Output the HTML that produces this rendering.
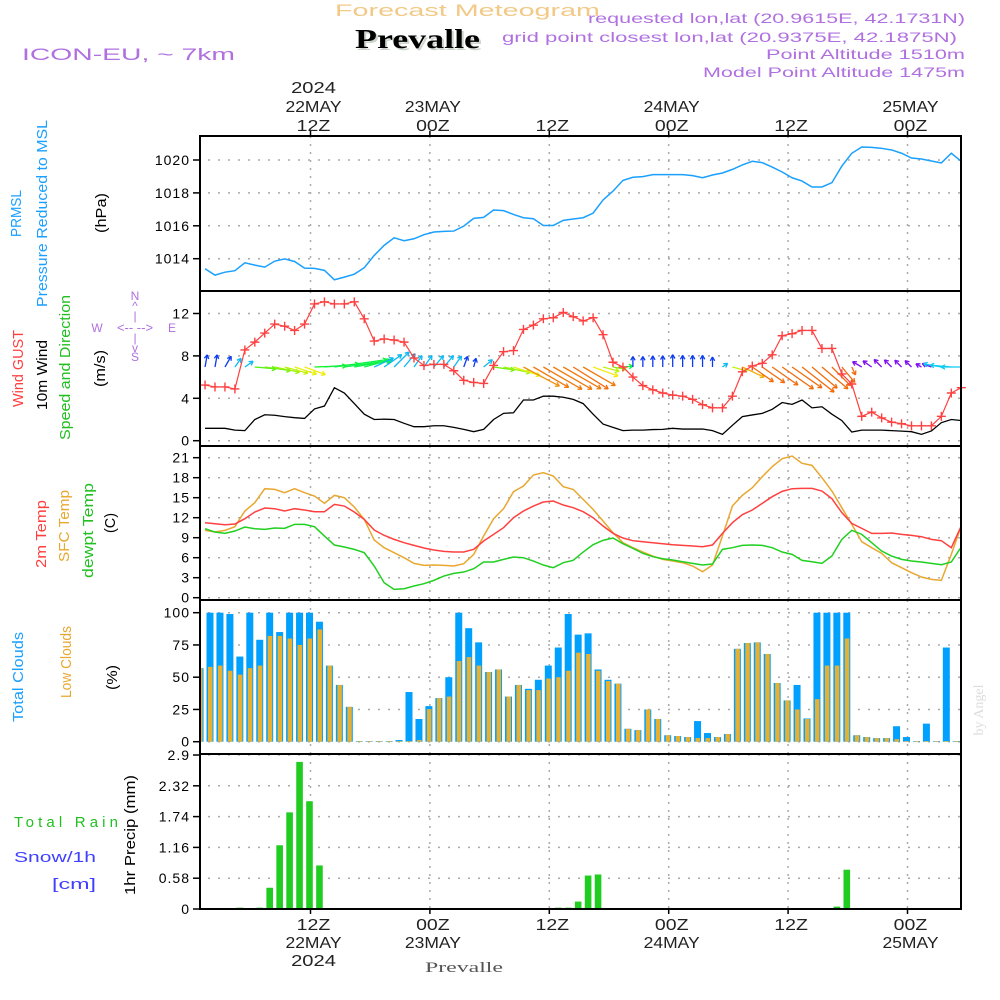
<!DOCTYPE html>
<html><head><meta charset="utf-8"><style>
html,body{margin:0;padding:0;background:#fff;width:1000px;height:1000px;overflow:hidden}
svg{display:block;font-family:"Liberation Sans",sans-serif}
</style></head><body>
<svg id="chart" width="1000" height="1000" viewBox="0 0 1000 1000" xmlns="http://www.w3.org/2000/svg">
<rect x="0" y="0" width="1000" height="1000" fill="#fff"/>
<g lengthAdjust="spacingAndGlyphs">
<text x="335" y="16" font-size="17" fill="#f2c987" textLength="265" lengthAdjust="spacingAndGlyphs">Forecast Meteogram</text>
<text x="357" y="50" font-size="27" font-weight="bold" font-family="Liberation Serif,serif" fill="#ccd4cc" textLength="125" lengthAdjust="spacingAndGlyphs">Prevalle</text>
<text x="355" y="48" font-size="27" font-weight="bold" font-family="Liberation Serif,serif" fill="#000" textLength="125" lengthAdjust="spacingAndGlyphs">Prevalle</text>
<text x="22" y="60" font-size="17" fill="#b070e0" textLength="213" lengthAdjust="spacingAndGlyphs">ICON-EU, ~ 7km</text>
<g font-size="14" fill="#b070e0">
<text x="588" y="23" textLength="377" lengthAdjust="spacingAndGlyphs">requested lon,lat (20.9615E, 42.1731N)</text>
<text x="502" y="42" textLength="455" lengthAdjust="spacingAndGlyphs">grid point closest lon,lat (20.9375E, 42.1875N)</text>
<text x="766" y="59" textLength="199" lengthAdjust="spacingAndGlyphs">Point Altitude 1510m</text>
<text x="703" y="77" textLength="262" lengthAdjust="spacingAndGlyphs">Model Point Altitude 1475m</text>
</g>
</g>
<g font-size="15">
<text transform="translate(21,237) rotate(-90)" fill="#1aa0ff" textLength="47" lengthAdjust="spacingAndGlyphs">PRMSL</text>
<text transform="translate(47,307) rotate(-90)" fill="#1aa0ff" textLength="187" lengthAdjust="spacingAndGlyphs">Pressure Reduced to MSL</text>
<text transform="translate(106,233) rotate(-90)" fill="#000" textLength="40" lengthAdjust="spacingAndGlyphs">(hPa)</text>
<text transform="translate(23,407) rotate(-90)" fill="#ff4040" textLength="77" lengthAdjust="spacingAndGlyphs">Wind GUST</text>
<text transform="translate(47,410) rotate(-90)" fill="#000" textLength="70" lengthAdjust="spacingAndGlyphs">10m Wind</text>
<text transform="translate(70,440) rotate(-90)" fill="#20c020" textLength="145" lengthAdjust="spacingAndGlyphs">Speed and Direction</text>
<text transform="translate(105,387) rotate(-90)" fill="#000" textLength="37" lengthAdjust="spacingAndGlyphs">(m/s)</text>
<g fill="#b070e0" font-size="12" text-anchor="middle">
<text x="135" y="300">N</text><text x="135" y="310">^</text><text x="135" y="320">|</text>
<text x="135" y="332" font-size="13">&lt;-- --&gt;</text><text x="135" y="342">|</text>
<text x="135" y="352">v</text><text x="135" y="361">S</text>
<text x="97" y="332">W</text><text x="172" y="332">E</text>
</g>
<text transform="translate(46,568) rotate(-90)" fill="#ff4040" textLength="68" lengthAdjust="spacingAndGlyphs">2m Temp</text>
<text transform="translate(69,562) rotate(-90)" fill="#e8a830" textLength="72" lengthAdjust="spacingAndGlyphs">SFC Temp</text>
<text transform="translate(93,578) rotate(-90)" fill="#20c020" textLength="95" lengthAdjust="spacingAndGlyphs">dewpt Temp</text>
<text transform="translate(115,533) rotate(-90)" fill="#000" textLength="20" lengthAdjust="spacingAndGlyphs">(C)</text>
<text transform="translate(23,722) rotate(-90)" fill="#1aa0ff" textLength="90" lengthAdjust="spacingAndGlyphs">Total Clouds</text>
<text transform="translate(71,698) rotate(-90)" fill="#e8a830" textLength="72" lengthAdjust="spacingAndGlyphs">Low Clouds</text>
<text transform="translate(117,690) rotate(-90)" fill="#000" textLength="25" lengthAdjust="spacingAndGlyphs">(%)</text>
<text x="14" y="827" fill="#20c020" textLength="104" lengthAdjust="spacing">Total Rain</text>
<text x="14" y="862" fill="#4040ff" textLength="82" lengthAdjust="spacingAndGlyphs">Snow/1h</text>
<text x="52" y="889" fill="#4040ff" textLength="44" lengthAdjust="spacingAndGlyphs">[cm]</text>
<text transform="translate(135,895) rotate(-90)" fill="#000" textLength="120" lengthAdjust="spacingAndGlyphs">1hr Precip (mm)</text>
</g>
<text transform="translate(983,710) rotate(-90)" font-size="14" font-family="Liberation Serif,serif" fill="#ddd" text-anchor="middle">by Angel</text>
<text x="425" y="972" font-size="15" font-family="Liberation Serif,serif" fill="#555" textLength="78" lengthAdjust="spacingAndGlyphs">Prevalle</text>
<g id="plots"></g>
</svg>
<script>
// ---- data (hourly, t = 1..77 hours after 00Z 22 May) ----
const hours = Array.from({length:77},(_,i)=>i+1);
const pressure = [1013.39,1013.0,1013.18,1013.27,1013.75,1013.61,1013.49,1013.85,1013.99,1013.83,1013.43,1013.41,1013.29,1012.72,1012.88,1013.06,1013.45,1014.2,1014.81,1015.27,1015.09,1015.21,1015.46,1015.62,1015.66,1015.68,1015.98,1016.45,1016.51,1016.96,1016.92,1016.69,1016.49,1016.43,1016.02,1016.02,1016.33,1016.41,1016.49,1016.77,1017.57,1018.11,1018.76,1018.95,1018.99,1019.11,1019.11,1019.11,1019.11,1019.05,1018.92,1019.09,1019.21,1019.43,1019.70,1019.92,1019.84,1019.57,1019.27,1018.92,1018.72,1018.36,1018.36,1018.62,1019.63,1020.41,1020.79,1020.77,1020.71,1020.61,1020.41,1020.12,1020.06,1019.94,1019.82,1020.41,1019.92];
const gust = [5.25,5.07,5.07,4.88,8.56,9.3,10.15,11.0,10.8,10.4,11.0,12.9,13.1,12.9,12.9,13.1,11.5,9.4,9.6,9.5,9.3,7.8,7.1,7.2,7.2,6.6,5.7,5.5,5.4,7.1,8.4,8.5,10.5,10.9,11.5,11.6,12.1,11.7,11.3,11.6,10.0,7.4,6.95,6.0,5.2,4.8,4.5,4.3,4.2,3.9,3.4,3.1,3.1,4.2,6.5,7.05,7.3,8.1,9.9,10.1,10.4,10.4,8.7,8.7,6.3,5.35,2.3,2.7,2.15,1.75,1.6,1.4,1.4,1.4,2.3,4.5,5.0];
const wind = [1.17,1.17,1.17,1.0,0.95,2.0,2.45,2.4,2.27,2.17,2.1,3.0,3.27,5.0,4.5,3.5,2.5,2.0,2.03,2.0,1.64,1.32,1.32,1.41,1.41,1.26,1.07,0.85,1.07,2.0,2.58,2.64,3.84,3.84,4.2,4.2,4.1,3.9,3.5,2.5,1.57,1.26,0.95,1.0,1.0,1.05,1.07,1.17,1.1,1.1,1.1,0.95,0.6,1.45,2.27,2.43,2.58,2.96,3.6,3.43,3.84,3.1,3.2,2.5,1.9,0.82,1.0,1.0,1.0,0.95,0.9,0.85,0.6,0.92,1.7,2.0,1.9];
const windDir = [80,80,60,55,35,-5,-8,-12,-15,-18,-20,2,5,8,8,10,15,25,35,45,50,55,55,50,50,55,70,75,40,-8,-12,-18,-28,-30,-30,-30,-30,-32,-30,-20,-15,-10,5,90,90,90,90,90,90,90,90,90,35,-15,-25,-35,-35,-35,-35,-35,-38,-40,-40,-45,-50,-65,150,145,135,135,135,135,150,160,170,175,180];
const temp2m = [11.25,11.1,10.95,11.05,11.85,12.85,13.45,13.35,13.0,13.35,13.15,12.9,12.9,14.0,13.75,12.85,11.75,10.15,9.35,8.75,8.25,7.85,7.45,7.15,6.95,6.85,6.85,7.25,8.5,9.5,10.5,12.0,13.0,13.75,14.35,14.5,13.9,13.5,12.9,12.0,10.75,9.65,8.95,8.55,8.4,8.25,8.1,7.95,7.85,7.75,7.65,7.9,9.65,11.25,12.45,13.15,14.15,15.15,15.95,16.35,16.4,16.4,16.0,14.85,12.75,11.15,10.4,9.65,9.65,9.7,9.5,9.35,9.15,8.75,8.55,7.5,10.75];
const tempSfc = [10.1,9.85,10.1,10.65,13.0,14.25,16.35,16.25,15.75,16.35,15.75,15.25,14.15,15.35,15.0,13.6,11.75,8.65,7.5,6.75,6.0,5.15,4.85,4.9,4.85,4.75,5.1,6.5,9.25,11.85,13.35,15.9,16.75,18.4,18.75,18.25,16.65,16.25,14.75,13.25,11.5,9.75,8.25,7.5,6.85,6.25,5.75,5.5,5.25,4.75,3.9,4.9,9.25,13.75,15.35,16.5,18.15,19.65,20.85,21.25,20.15,19.85,18.0,16.0,13.5,11.0,8.4,7.5,6.65,5.25,4.5,3.75,3.1,2.75,2.6,6.5,10.75];
const dewpt = [10.35,9.85,9.65,10.0,10.6,10.35,10.25,10.45,10.4,11.0,11.0,10.65,9.25,7.9,7.6,7.25,6.75,4.75,2.25,1.25,1.35,1.75,2.1,2.6,3.25,3.65,3.85,4.35,5.35,5.35,5.75,6.1,6.0,5.5,4.9,4.5,5.25,5.6,6.85,7.95,8.6,8.95,8.1,7.4,6.65,6.15,5.85,5.65,5.4,5.15,4.9,5.05,7.25,7.5,7.85,7.9,7.85,7.5,6.85,6.5,5.6,5.4,5.15,6.25,8.75,10.1,9.5,8.25,7.0,6.25,5.75,5.5,5.35,5.15,4.95,5.35,7.6];
const cloudTotal = [57,100,100,99,66,100,79,100,85,100,100,100,93,59,44,27,0.5,0.5,0.5,0.5,1.3,38.5,17.6,27.6,33.8,50,100,88,77,54,56,35,44,41,48,59,73,99,83,84,56,48,45,10,9,25,17.6,5,4.4,3.6,16,6.7,3.6,6,72,76.5,77,68,45.5,32,44,18,100,100,100,100,5,3.6,2.8,2.8,12,3.6,0.5,14,0.5,73,0.5];
const cloudLow = [57,58,59,55,52,57,59,82,82,80,75,80,87,59,44,27,0.5,0.5,0.5,0.5,0.5,0.5,1.3,25.3,33.8,35,62.5,65.6,59,54,56,35,44,40,40,49,50,55,69,68,55,47,45,10,9,25,17.6,5,4.4,3.6,2.8,2.8,3.6,6,72,76.5,77,68,45.5,32,25,17.6,33,59,59,80,5,3.6,2.8,2.8,2,0.5,0.5,0.5,0.5,0.5,0.5];
const precip = [0,0,0,0,0.025,0,0.025,0.40,1.20,1.82,2.77,2.03,0.82,0,0,0,0,0,0,0,0,0,0,0,0,0,0,0.01,0,0,0,0,0,0,0,0,0.025,0.025,0.14,0.63,0.65,0,0,0,0,0,0,0,0,0,0,0,0,0,0,0,0,0,0,0,0,0,0,0,0.045,0.74,0,0,0,0,0,0,0,0,0,0,0];
const timeTicks = [12,24,36,48,60,72];
const topTickLabels = [["2024","22MAY","12Z"],["","23MAY","00Z"],["","","12Z"],["","24MAY","00Z"],["","","12Z"],["","25MAY","00Z"]];
const bottomTickLabels = [["12Z","22MAY","2024"],["00Z","23MAY",""],["12Z","",""],["00Z","24MAY",""],["12Z","",""],["00Z","25MAY",""]];
const pressTicks = [1014,1016,1018,1020];
const windTicks = [0,4,8,12];
const tempTicks = [0,3,6,9,12,15,18,21];
const cloudTicks = [0,25,50,75,100];
const precipTicks = [0,0.58,1.16,1.74,2.32,2.9];

// ---- geometry / axis functions ----
const NS="http://www.w3.org/2000/svg";
const L=200, R=961;
const xT = t => 310.5 + (t-12)*9.95;
const xLine = t => xT(t)+4;
const xBar = t => xT(t)-1;
const yP = p => 160 + (1020-p)*16.45;
const yW = v => 440.7 - v*10.6;
const yT = c => 597.7 - c*6.667;
const yC = c => 741.7 - c*1.29;
const yR = m => 909 - m*53.1;
const panels = [[136,291],[291,446],[446,600],[600,754],[754,909]];
const root=document.getElementById('plots');
function mk(tag,attrs,parent){const e=document.createElementNS(NS,tag);for(const k in attrs)e.setAttribute(k,attrs[k]);(parent||root).appendChild(e);return e;}
const defs=mk('defs',{});
panels.forEach((p,i)=>{const c=mk('clipPath',{id:'clip'+i},defs);mk('rect',{x:L,y:p[0],width:R-L,height:p[1]-p[0]},c);});

// grid
const grid=mk('g',{});


panels.forEach(p=>{timeTicks.forEach(t=>{const ln=mk('line',{x1:xT(t),x2:xT(t),y1:p[0],y2:p[1],stroke:'#aaa','stroke-width':1.5,'stroke-dasharray':'2,6'},grid);

});});
function hgrid(vals,fy,name){vals.forEach(v=>{const ln=mk('line',{x1:L+8,x2:R,y1:fy(v),y2:fy(v),stroke:'#aaa','stroke-width':1.5,'stroke-dasharray':'2,8'},grid);

});}
hgrid(pressTicks,yP,'pressure-gridline');hgrid(windTicks,yW,'wind-gridline');hgrid(tempTicks,yT,'temp-gridline');hgrid(cloudTicks,yC,'cloud-gridline');hgrid(precipTicks,yR,'precip-gridline');

// y axes
function yaxis(vals,fy,name,fmt){const g=mk('g',{});


vals.forEach(v=>{mk('line',{x1:193,x2:L,y1:fy(v),y2:fy(v),stroke:'#000','stroke-width':1.5},g);
const tx=mk('text',{x:190,y:fy(v)+5,'font-size':14,'text-anchor':'end',fill:'#000','letter-spacing':1},g);tx.textContent=fmt?fmt(v):v;

});}
yaxis(pressTicks,yP,'pressure-axis');yaxis(windTicks,yW,'wind-axis');yaxis(tempTicks,yT,'temp-axis');yaxis(cloudTicks,yC,'cloud-axis');yaxis(precipTicks,yR,'precip-axis',v=>v===0?'0':String(v));

// time axes
const ta=mk('g',{'font-size':16,'text-anchor':'middle',fill:'#222'});


function tlabel(s,x,y,name){const e=mk('text',{x:x,y:y,textLength:(s.length*11.2).toFixed(1),lengthAdjust:'spacingAndGlyphs'},ta);e.textContent=s;

}
timeTicks.forEach((t,i)=>{const x=xT(t)+3;
mk('line',{x1:xT(t),x2:xT(t),y1:131,y2:136,stroke:'#000','stroke-width':1.5},ta);
mk('line',{x1:xT(t),x2:xT(t),y1:909,y2:914,stroke:'#000','stroke-width':1.5},ta);
topTickLabels[i].forEach((s,j)=>{if(s)tlabel(s,x,93+j*19,'top-time-label');});
bottomTickLabels[i].forEach((s,j)=>{if(s)tlabel(s,x,930+j*18,'bottom-time-label');});});

// pressure
const pl=mk('polyline',{points:hours.map((t,i)=>xLine(t)+','+yP(pressure[i])).join(' '),fill:'none',stroke:'#1aa0ff','stroke-width':1.5,'clip-path':'url(#clip0)'});



// wind arrows
function hueFor(a){if(a>100)return a>=165?190:270;if(a>=60)return 228;if(a>=20)return 195;return Math.max(25,Math.min(135,118+a*3));}
const wg=mk('g',{'clip-path':'url(#clip1)'});


hours.forEach((t,i)=>{const x0=xLine(t),y0=367,len=wind[i]*10.6,a=windDir[i]*Math.PI/180;
const x1=x0+len*Math.cos(a),y1=y0-len*Math.sin(a);const col='hsl('+hueFor(windDir[i])+',90%,50%)';
const ar=mk('g',{stroke:col,'stroke-width':1.3,fill:'none'},wg);


mk('line',{x1:x0,y1:y0,x2:x1,y2:y1},ar);
const h=4.5;[2.6,-2.6].forEach(d=>{mk('line',{x1:x1,y1:y1,x2:x1-h*Math.cos(a+d*0.2),y2:y1+h*Math.sin(a+d*0.2)},ar);});});

// gust
const gp=hours.map((t,i)=>xLine(t)+','+yW(gust[i])).join(' ');
const gl=mk('polyline',{points:gp,fill:'none',stroke:'#ff4040','stroke-width':1.2,'clip-path':'url(#clip1)'});


hours.forEach((t,i)=>{const x=xLine(t),y=yW(gust[i]);const p=mk('path',{d:`M${x-4.5},${y}H${x+4.5}M${x},${y-4.5}V${y+4.5}`,stroke:'#ff4040','stroke-width':1.4});

});
const wl=mk('polyline',{points:hours.map((t,i)=>xLine(t)+','+yW(wind[i])).join(' '),fill:'none',stroke:'#000','stroke-width':1.3,'clip-path':'url(#clip1)'});



// temps
[[tempSfc,'#e8a830','sfc-temp-line'],[temp2m,'#ff4040','temp-2m-line'],[dewpt,'#20d020','dewpt-line']].forEach(s=>{
const e=mk('polyline',{points:hours.map((t,i)=>xLine(t)+','+yT(s[0][i])).join(' '),fill:'none',stroke:s[1],'stroke-width':1.5,'clip-path':'url(#clip2)'});

});

// clouds
const cg=mk('g',{'clip-path':'url(#clip3)'});


hours.forEach((t,i)=>{const x=xBar(t);
const b=mk('rect',{x:x-3.5,y:yC(cloudTotal[i]),width:7,height:yC(0)-yC(cloudTotal[i]),fill:'#00a0ff'},cg);


const o=mk('rect',{x:x-2,y:yC(cloudLow[i]),width:4.5,height:yC(0)-yC(cloudLow[i]),fill:'#e8b030'},cg);

});

// precip
const rg=mk('g',{'clip-path':'url(#clip4)'});


hours.forEach((t,i)=>{if(precip[i]<=0)return;const x=xBar(t);
const b=mk('rect',{x:x-3.3,y:yR(precip[i]),width:6.6,height:yR(0)-yR(precip[i]),fill:'#20cc20'},rg);

});

// frames
panels.forEach((p,i)=>{const f=mk('rect',{x:L,y:p[0],width:R-L,height:p[1]-p[0],fill:'none',stroke:'#000','stroke-width':2});

});
</script>
</body></html>
